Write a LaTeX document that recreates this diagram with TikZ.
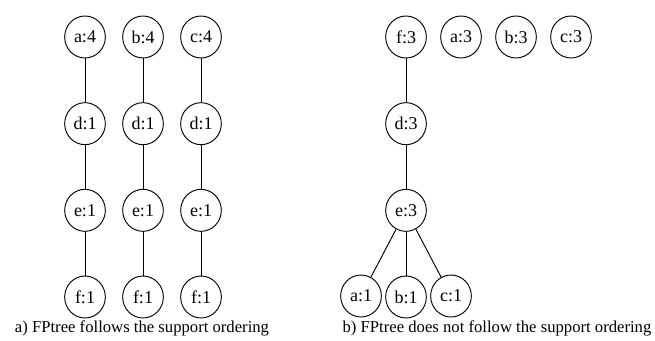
\documentclass[tikz,border=0pt]{standalone}
\usepackage{fontspec}
\setmainfont{Liberation Serif}
\usetikzlibrary{shapes.geometric}

\begin{document}
\begin{tikzpicture}[x=0.75pt,y=-0.75pt,node distance=65pt,
        line width=0.7pt,main node/.style={ellipse,draw,minimum width=30.5pt,minimum height=31.5pt,inner sep=0pt,font=\fontsize{13.5}{15}\selectfont},
        caption/.style={font=\fontsize{12.5}{15}\selectfont}]
    \useasboundingbox (0,0) rectangle (655,340);

    % a) left trees
    \node[main node] (a4) at (85,37) {a:4};
    \node[main node] (d1a) [below of = a4] {d:1};
    \node[main node] (e1a) [below of = d1a] {e:1};
    \node[main node] (f1a) [below of = e1a] {f:1};

    \node[main node] (b4) at (143,37) {b:4};
    \node[main node] (d1b) [below of = b4] {d:1};
    \node[main node] (e1b) [below of = d1b] {e:1};
    \node[main node] (f1b) [below of = e1b] {f:1};

    \node[main node] (c4) at (201,37) {c:4};
    \node[main node] (d1c) [below of = c4] {d:1};
    \node[main node] (e1c) [below of = d1c] {e:1};
    \node[main node] (f1c) [below of = e1c] {f:1};

    % b) right tree
    \node[main node] (f3) at (406,37) {f:3};
    \node[main node] (a3) at (461,37) {a:3};
    \node[main node] (b3) at (516,37) {b:3};
    \node[main node] (c3) at (571,37) {c:3};
    \node[main node] (d3) [below of = f3] {d:3};
    \node[main node] (e3) [below of = d3] {e:3};
    \node[main node] (b1) [below of = e3] {b:1};
    \node[main node] (a1) at (361,296) {a:1};
    \node[main node] (c1) at (451,296) {c:1};

    \node[caption] (capa) at (142,328) {a) FPtree follows the support ordering};
    \node[caption] (capb) at (497,328) {b) FPtree does not follow the support ordering};

    \path[-]
    (a4) edge (d1a) (d1a) edge (e1a) (e1a) edge (f1a)
    (b4) edge (d1b) (d1b) edge (e1b) (e1b) edge (f1b)
    (c4) edge (d1c) (d1c) edge (e1c) (e1c) edge (f1c)
    (f3) edge (d3) (d3) edge (e3)
    (e3) edge (a1) (e3) edge (b1) (e3) edge (c1);
\end{tikzpicture}
\end{document}
